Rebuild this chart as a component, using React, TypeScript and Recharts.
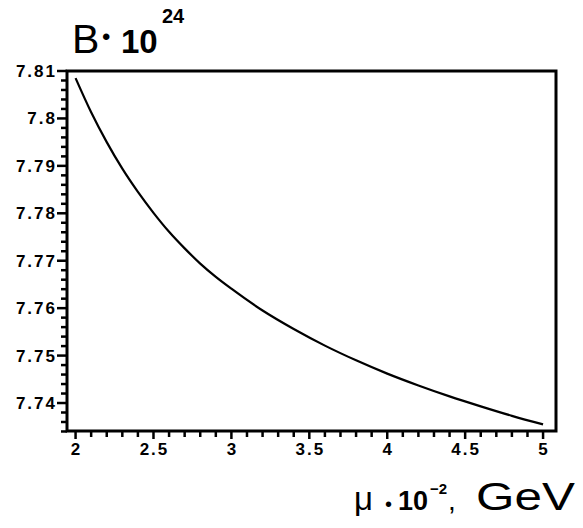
import { LineChart, Line, XAxis, YAxis, ReferenceArea } from 'recharts';

// mu * 10^-2, GeV
const muValues = [2, 2.1, 2.2, 2.3, 2.4, 2.5, 2.6, 2.7, 2.8, 2.9, 3.0, 3.2, 3.4, 3.6, 3.8, 4.0, 4.2, 4.4, 4.6, 4.8, 5.0];
// B * 10^24
const bValues = [
  7.8085, 7.8013, 7.795, 7.7894, 7.7845, 7.7801, 7.7761, 7.7726, 7.7694, 7.7666, 7.7641,
  7.7595, 7.7556, 7.7521, 7.749, 7.7462, 7.7437, 7.7414, 7.7393, 7.7373, 7.7355,
];

const xMajorTicks = [2, 2.5, 3, 3.5, 4, 4.5, 5];
const xTickLabels = ['2', '2.5', '3', '3.5', '4', '4.5', '5'];
const yMajorTicks = [7.74, 7.75, 7.76, 7.77, 7.78, 7.79, 7.8, 7.81];
const yTickLabels = ['7.74', '7.75', '7.76', '7.77', '7.78', '7.79', '7.8', '7.81'];

const xDomain: [number, number] = [1.945, 5.083];
const yDomain: [number, number] = [7.7341, 7.81];

// minor tick positions: every 0.1 on x, every 0.002 on y
const xTicks: number[] = [];
for (let i = 20; i <= 50; i++) xTicks.push(i / 10);
const yTicks: number[] = [];
for (let k = 3867; k <= 3905; k++) yTicks.push(k / 500);

const data = muValues.map((mu, i) => ({ mu, b: bValues[i] }));

const FONT = '"Liberation Sans", Arial, sans-serif';

const labelFor = (v: number, majors: number[], labels: string[]) => {
  const i = majors.findIndex((m) => Math.abs(m - v) < 1e-6);
  return i >= 0 ? labels[i] : null;
};

const XTick = (props: any) => {
  const { x, y, payload } = props;
  const label = labelFor(payload.value, xMajorTicks, xTickLabels);
  const len = label ? 8 : 6;
  return (
    <g>
      <path d={`M${x},${y}V${y + len}`} stroke="#000" strokeWidth={2.5} fill="none" />
      {label && (
        <text x={x + 1} y={y + 24} textAnchor="middle" fontFamily={FONT} fontSize={17} fontWeight="bold" letterSpacing={2} fill="#000">
          {label}
        </text>
      )}
    </g>
  );
};

const YTick = (props: any) => {
  const { x, y, payload } = props;
  const label = labelFor(payload.value, yMajorTicks, yTickLabels);
  const len = label ? 10 : 6;
  return (
    <g>
      <path d={`M${x - len},${y}H${x}`} stroke="#000" strokeWidth={2.5} fill="none" />
      {label && (
        <text x={x - 10} y={y + 6} textAnchor="end" fontFamily={FONT} fontSize={17} fontWeight="bold" letterSpacing={2} fill="#000">
          {label}
        </text>
      )}
    </g>
  );
};

const YTitle = () => (
  <text fontFamily={FONT} fill="#000">
    <tspan x={72} y={53} fontSize={41}>B</tspan>
    <tspan x={102} y={45} fontSize={24}>•</tspan>
    <tspan x={121} y={53} fontSize={33} fontWeight="bold">10</tspan>
    <tspan x={162} y={23} fontSize={20} fontWeight="bold">24</tspan>
  </text>
);

const XTitle = () => (
  <g fill="#000" fontFamily={FONT}>
    <text>
      <tspan x={354} y={510} fontSize={33}>μ</tspan>
      <tspan x={385} y={511} fontSize={20}>•</tspan>
      <tspan x={398} y={510} fontSize={27} fontWeight="bold">10</tspan>
      <tspan x={430} y={494} fontSize={15} fontWeight="bold">−2</tspan>
      <tspan x={448} y={510} fontSize={28}>,</tspan>
    </text>
    <text transform="translate(476 510) scale(1.3 1)" fontSize={38}>GeV</text>
  </g>
);

export default function App() {
  return (
    <div style={{ position: 'absolute', left: 0, top: 0, width: 583, height: 528, background: '#fff' }}>
      <LineChart width={583} height={528} data={data} margin={{ top: 71, right: 27, bottom: 0, left: 0 }}>
        <XAxis
          dataKey="mu"
          type="number"
          domain={xDomain}
          allowDataOverflow
          ticks={xTicks}
          interval={0}
          tick={<XTick />}
          tickLine={false}
          tickSize={0}
          tickMargin={0}
          axisLine={false}
          height={97}
          label={<XTitle />}
        />
        <YAxis
          type="number"
          domain={yDomain}
          allowDataOverflow
          ticks={yTicks}
          interval={0}
          tick={<YTick />}
          tickLine={false}
          tickSize={0}
          tickMargin={0}
          axisLine={false}
          width={67}
          label={<YTitle />}
        />
        <ReferenceArea
          x1={xDomain[0]}
          x2={xDomain[1]}
          y1={yDomain[0]}
          y2={yDomain[1]}
          ifOverflow="visible"
          fill="none"
          stroke="#000"
          strokeWidth={3}
        />
        <Line
          type="monotone"
          dataKey="b"
          stroke="#000"
          strokeWidth={2.2}
          dot={false}
          isAnimationActive={false}
        />
      </LineChart>
    </div>
  );
}
